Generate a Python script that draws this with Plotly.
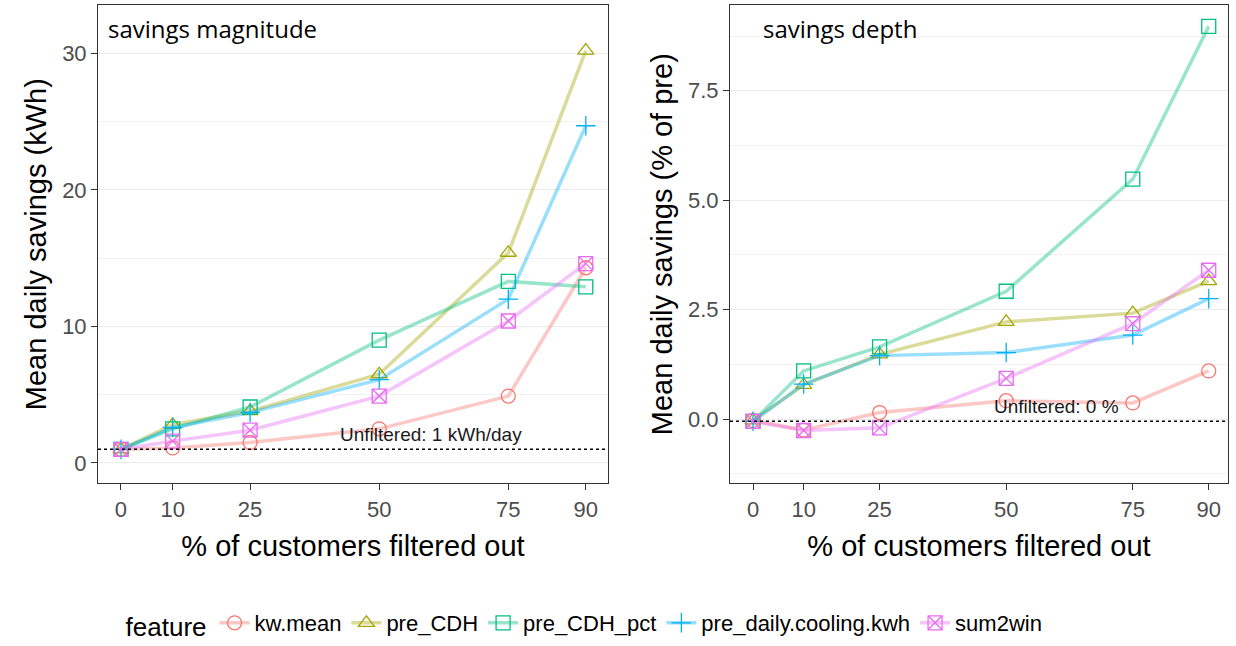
import plotly.graph_objects as go
from plotly.subplots import make_subplots

pct_filtered = [0, 10, 25, 50, 75, 90]
features = ["kw.mean", "pre_CDH", "pre_CDH_pct", "pre_daily.cooling.kwh", "sum2win"]

# mean daily savings, kWh
magnitude_kw_mean = [1.0, 1.1, 1.5, 2.5, 4.9, 14.3]
magnitude_pre_cdh = [1.0, 2.8, 3.8, 6.5, 15.4, 30.2]
magnitude_pre_cdh_pct = [1.0, 2.5, 4.1, 9.0, 13.3, 12.9]
magnitude_cooling_kwh = [1.0, 2.6, 3.7, 6.1, 12.0, 24.7]
magnitude_sum2win = [1.0, 1.6, 2.4, 4.9, 10.4, 14.6]

# mean daily savings, % of pre-period usage
depth_kw_mean = [-0.03, -0.25, 0.15, 0.42, 0.37, 1.1]
depth_pre_cdh = [-0.03, 0.78, 1.48, 2.22, 2.42, 3.15]
depth_pre_cdh_pct = [-0.05, 1.1, 1.65, 2.92, 5.48, 8.97]
depth_cooling_kwh = [-0.05, 0.8, 1.45, 1.52, 1.92, 2.75]
depth_sum2win = [-0.05, -0.26, -0.2, 0.93, 2.18, 3.4]

unfiltered_kwh = 1.0
unfiltered_pct = -0.05

magnitude = [magnitude_kw_mean, magnitude_pre_cdh, magnitude_pre_cdh_pct,
             magnitude_cooling_kwh, magnitude_sum2win]
depth = [depth_kw_mean, depth_pre_cdh, depth_pre_cdh_pct,
         depth_cooling_kwh, depth_sum2win]

colors = ["#F8766D", "#A3A500", "#00BF7D", "#00B0F6", "#E76BF3"]
line_colors = ["rgba(248,118,109,0.4)", "rgba(163,165,0,0.4)", "rgba(0,191,125,0.4)",
               "rgba(0,176,246,0.4)", "rgba(231,107,243,0.4)"]
symbols = ["circle-open", "triangle-up-open", "square-open", "cross-thin-open", "square-x-open"]

fig = make_subplots(rows=1, cols=2)

for col, data in ((1, magnitude), (2, depth)):
    for i, name in enumerate(features):
        fig.add_trace(go.Scatter(
            x=pct_filtered, y=data[i], name=name, mode="lines+markers",
            line=dict(color=line_colors[i], width=3.5),
            marker=dict(symbol=symbols[i], size=14, color=colors[i],
                        line=dict(color=colors[i], width=1.3)),
            legendgroup=name, showlegend=(col == 1),
        ), row=1, col=col)

sans = "Liberation Sans, Arial, sans-serif"
tick_font = dict(family=sans, size=22, color="#4d4d4d")
title_font = dict(family=sans, size=29, color="black")

common_x = dict(tickvals=pct_filtered, ticks="outside", ticklen=6, tickcolor="#333333",
                showgrid=False, zeroline=False, showline=True, linecolor="#333333",
                linewidth=1, mirror=True, tickfont=tick_font,
                title=dict(text="% of customers filtered out", font=title_font, standoff=14))
common_y = dict(ticks="outside", ticklen=6, tickcolor="#333333", showgrid=True,
                gridcolor="#ebebeb", gridwidth=1.2, zeroline=False, showline=True,
                linecolor="#333333", linewidth=1, mirror=True, tickfont=tick_font)

fig.update_xaxes(common_x)
fig.update_yaxes(common_y)

fig.update_layout(
    xaxis=dict(domain=[0.0793, 0.4919], range=[-4.45, 94.3]),
    xaxis2=dict(domain=[0.5906, 0.9935], range=[-4.55, 93.8]),
    yaxis=dict(domain=[0.2446, 0.9923], range=[-1.5, 33.55], tickvals=[0, 10, 20, 30],
               minor=dict(tickvals=[5, 15, 25], showgrid=True, gridcolor="#f2f2f2", ticks=""),
               title=dict(text="Mean daily savings (kWh)", font=title_font, standoff=6)),
    yaxis2=dict(domain=[0.2446, 0.9923], range=[-1.47, 9.46], tickvals=[0, 2.5, 5, 7.5],
                ticktext=["0.0", "2.5", "5.0", "7.5"],
                minor=dict(tickvals=[-1.25, 1.25, 3.75, 6.25, 8.75], showgrid=True,
                           gridcolor="#f2f2f2", ticks=""),
                title=dict(text="Mean daily savings (% of pre)", font=title_font, standoff=6)),
)

dotted = dict(type="line", x0=0, x1=1, line=dict(color="black", width=1.5, dash="dot"))
fig.add_shape(dotted, xref="x domain", yref="y", y0=unfiltered_kwh, y1=unfiltered_kwh)
fig.add_shape(dotted, xref="x2 domain", yref="y2", y0=unfiltered_pct, y1=unfiltered_pct)

label_font = dict(family=sans, size=19, color="#1a1a1a")
fig.add_annotation(x=60, y=unfiltered_kwh, xref="x", yref="y",
                   text=f"Unfiltered: {unfiltered_kwh:.0f} kWh/day",
                   showarrow=False, font=label_font, yanchor="bottom", yshift=2)
fig.add_annotation(x=60, y=unfiltered_pct, xref="x2", yref="y2",
                   text="Unfiltered: 0 %", showarrow=False, font=label_font,
                   yanchor="bottom", yshift=2)

panel_font = dict(family="Open Sans, sans-serif", size=24, color="black")
fig.add_annotation(x=0.016, y=0.95, xref="x domain", yref="y domain", text="savings magnitude",
                   showarrow=False, font=panel_font, xanchor="left", yanchor="middle")
fig.add_annotation(x=0.063, y=0.95, xref="x2 domain", yref="y2 domain", text="savings depth",
                   showarrow=False, font=panel_font, xanchor="left", yanchor="middle")

fig.update_layout(
    width=1236, height=646,
    margin=dict(l=0, r=0, t=0, b=0),
    paper_bgcolor="white", plot_bgcolor="white",
    legend=dict(orientation="h", x=0.1, y=0.025, xanchor="left", yanchor="middle",
                title=dict(text="feature", font=dict(family=sans, size=26, color="black")),
                font=dict(family=sans, size=22, color="black"),
                itemwidth=30, tracegroupgap=0),
)

fig.write_html("out.html")
